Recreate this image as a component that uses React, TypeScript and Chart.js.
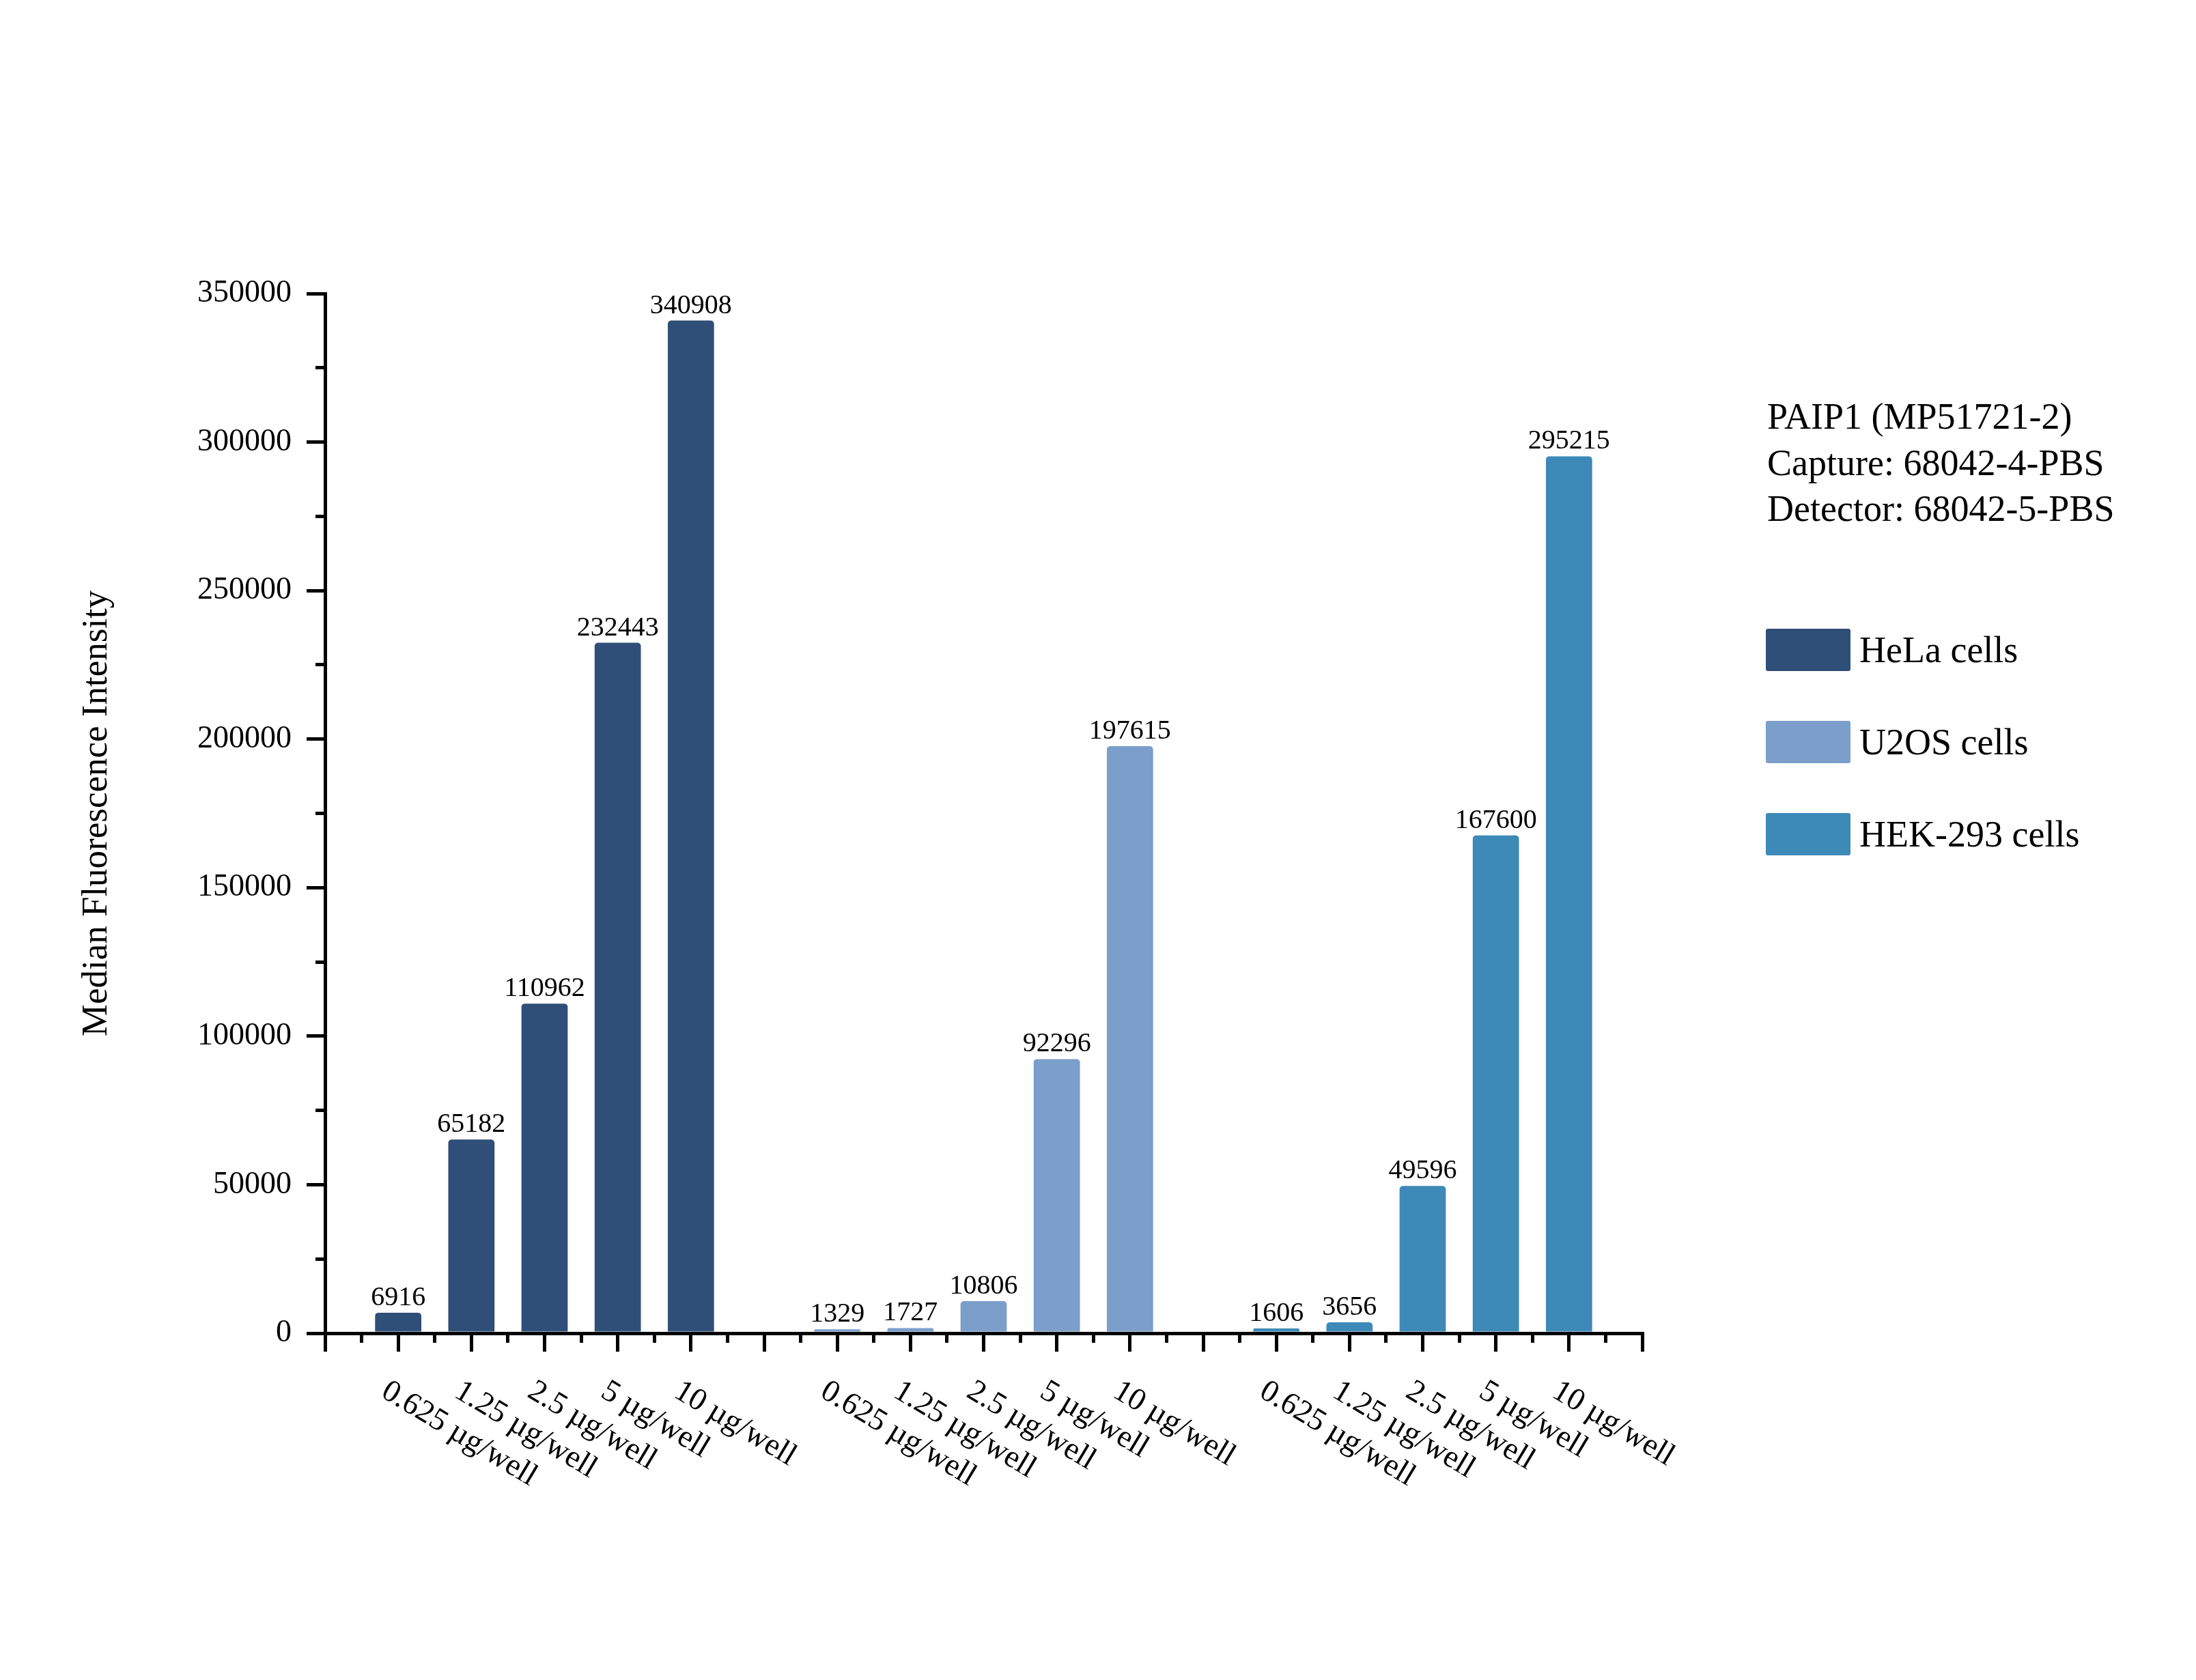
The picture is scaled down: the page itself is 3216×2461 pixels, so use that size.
import React, { useEffect, useRef } from "react";
import { Chart, registerables } from "chart.js";

Chart.register(...registerables);

// ---------------- data ----------------
const concentrations = ["0.625 µg/well", "1.25 µg/well", "2.5 µg/well", "5 µg/well", "10 µg/well"];
const cellLines = ["HeLa cells", "U2OS cells", "HEK-293 cells"];
const helaValues = [6916, 65182, 110962, 232443, 340908];
const u2osValues = [1329, 1727, 10806, 92296, 197615];
const hek293Values = [1606, 3656, 49596, 167600, 295215];
const yTickValues = [0, 50000, 100000, 150000, 200000, 250000, 300000, 350000];
const yMinorTickValues = [25000, 75000, 125000, 175000, 225000, 275000, 325000];
const yAxisTitle = "Median Fluorescence Intensity";
const annotationLines = ["PAIP1 (MP51721-2)", "Capture: 68042-4-PBS", "Detector: 68042-5-PBS"];
const seriesColors = ["#304F78", "#7B9ECB", "#3D89B8"];

const FONT = "'Liberation Serif', 'Times New Roman', Times, serif";

// x categories: an empty slot before, between and after each group
const labels: string[] = [""];
cellLines.forEach(() => {
  labels.push(...concentrations, "");
});
const seriesValues = [helaValues, u2osValues, hek293Values];

function buildDatasets() {
  const groupSize = concentrations.length;
  return seriesValues.map((vals, s) => {
    const data: (number | null)[] = labels.map(() => null);
    vals.forEach((v, j) => {
      data[1 + s * (groupSize + 1) + j] = v;
    });
    return {
      label: cellLines[s],
      data,
      backgroundColor: seriesColors[s],
      borderWidth: 0,
      borderRadius: 5,
      grouped: false,
      barPercentage: 0.632,
      categoryPercentage: 1,
    };
  });
}

const decorPlugin = {
  id: "decor",
  afterDatasetsDraw(chart: any) {
    const ctx = chart.ctx as CanvasRenderingContext2D;
    ctx.save();
    ctx.font = `40px ${FONT}`;
    ctx.fillStyle = "#000";
    ctx.textAlign = "center";
    ctx.textBaseline = "alphabetic";
    chart.data.datasets.forEach((ds: any, i: number) => {
      const meta = chart.getDatasetMeta(i);
      meta.data.forEach((el: any, j: number) => {
        const v = ds.data[j];
        if (v === null || v === undefined) return;
        ctx.fillText(String(v), el.x, el.y - 11);
      });
    });
    ctx.restore();
  },
  afterDraw(chart: any) {
    const ctx = chart.ctx as CanvasRenderingContext2D;
    const xs = chart.scales.x;
    const ys = chart.scales.y;
    const area = chart.chartArea;
    const align = (p: number) => Math.round(p - 2.5) + 2.5;
    ctx.save();
    ctx.strokeStyle = "#000";
    ctx.lineWidth = 5;
    ctx.lineCap = "butt";
    // minor ticks on x axis
    for (let i = 0; i < labels.length - 1; i++) {
      const px = align(xs.getPixelForValue(i + 0.5));
      ctx.beginPath();
      ctx.moveTo(px, area.bottom);
      ctx.lineTo(px, area.bottom + 14);
      ctx.stroke();
    }
    // minor ticks on y axis
    yMinorTickValues.forEach((v) => {
      const py = align(ys.getPixelForValue(v));
      ctx.beginPath();
      ctx.moveTo(area.left - 14, py);
      ctx.lineTo(area.left, py);
      ctx.stroke();
    });
    // rotated x tick labels
    ctx.font = `46px ${FONT}`;
    ctx.fillStyle = "#000";
    ctx.textAlign = "left";
    ctx.textBaseline = "alphabetic";
    (chart.data.labels as string[]).forEach((lab, i) => {
      if (!lab) return;
      const px = xs.getPixelForValue(i);
      ctx.save();
      ctx.translate(px - 27, area.bottom + 92);
      ctx.rotate((31 * Math.PI) / 180);
      ctx.fillText(lab, 0, 0);
      ctx.restore();
    });
    // annotation text
    ctx.font = `54px ${FONT}`;
    const legendX = area.right + 181;
    annotationLines.forEach((t, k) => {
      ctx.fillText(t, legendX + 2, 628 + k * 67.5);
    });
    // legend
    chart.data.datasets.forEach((ds: any, k: number) => {
      const top = 921 + k * 135;
      ctx.fillStyle = ds.backgroundColor;
      ctx.beginPath();
      (ctx as any).roundRect(legendX, top, 124, 62, 3);
      ctx.fill();
      ctx.fillStyle = "#000";
      ctx.fillText(ds.label, legendX + 137, top + 49);
    });
    ctx.restore();
  },
};

export default function App() {
  const canvasRef = useRef<HTMLCanvasElement | null>(null);

  useEffect(() => {
    document.body.style.margin = "0";
    const canvas = canvasRef.current;
    if (!canvas) return;
    const chart = new Chart(canvas, {
      type: "bar",
      data: { labels, datasets: buildDatasets() as any },
      options: {
        responsive: false,
        animation: false,
        devicePixelRatio: 1,
        layout: { padding: { top: 430, right: 811, bottom: 0, left: 0 } },
        plugins: { legend: { display: false }, tooltip: { enabled: false } },
        scales: {
          x: {
            type: "category",
            offset: false,
            grid: {
              offset: false,
              drawOnChartArea: false,
              drawTicks: true,
              tickLength: 27,
              tickWidth: 5,
              lineWidth: 5,
              color: "#000",
              tickColor: "#000",
            },
            border: { display: true, color: "#000", width: 5 },
            ticks: { display: false, autoSkip: false },
            afterFit: (scale: any) => {
              scale.height = 508;
            },
          },
          y: {
            type: "linear",
            min: 0,
            max: 350000,
            grid: {
              drawOnChartArea: false,
              drawTicks: true,
              tickLength: 27,
              tickWidth: 5,
              lineWidth: 5,
              color: "#000",
              tickColor: "#000",
            },
            border: { display: true, color: "#000", width: 5 },
            afterBuildTicks: (scale: any) => {
              scale.ticks = yTickValues.map((v) => ({ value: v }));
            },
            ticks: {
              color: "#000",
              padding: 22,
              font: { family: FONT, size: 46 },
              callback: (v: any) => String(v),
            },
            title: {
              display: true,
              text: yAxisTitle,
              color: "#000",
              font: { family: FONT, size: 53, lineHeight: 1 },
              padding: { top: 116, bottom: 0 },
            },
            afterFit: (scale: any) => {
              scale.width = 476;
            },
          },
        },
      },
      plugins: [decorPlugin],
    });
    return () => chart.destroy();
  }, []);

  return (
    <div style={{ width: 3216, height: 2461 }}>
      <canvas ref={canvasRef} width={3216} height={2461} style={{ display: "block", width: 3216, height: 2461 }} />
    </div>
  );
}
